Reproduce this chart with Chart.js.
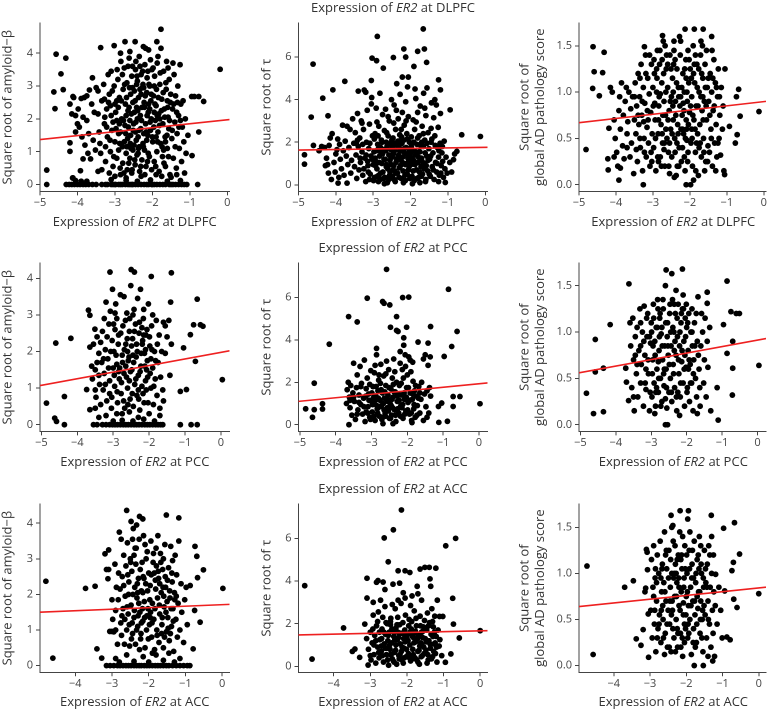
<!DOCTYPE html>
<html>
<head>
<meta charset="utf-8">
<script src="https://cdn.jsdelivr.net/npm/chart.js@4"></script>
<style>
  html, body { margin: 0; padding: 0; background: #fff; }
  #wrap { position: relative; width: 770px; height: 712px; overflow: hidden; font-family: "Open Sans", sans-serif; color: #333; }
  #wrap canvas { position: absolute; }
  .lbl { position: absolute; font-size: 13px; line-height: 16px; white-space: nowrap; transform: translateX(-50%); color: #333; }
</style>
</head>
<body>
<div id="wrap"></div>
<script>
// tick labels
const xTicksWide = [-5, -4, -3, -2, -1, 0];
const xTicksAcc = [-4, -3, -2, -1, 0];
const amyloidTicks = [0, 1, 2, 3, 4];
const tauTicks = [0, 2, 4, 6];
const globalTicks = [0, 0.5, 1, 1.5];

const regions = ['DLPFC', 'PCC', 'ACC'];

// fitted lines [x, y] at both ends
const fitDlpfcAmyloid = [[-5, 1.37], [0.06, 1.98]];
const fitDlpfcTau = [[-5, 1.63], [0.06, 1.76]];
const fitDlpfcGlobal = [[-5, 0.67], [0.06, 0.90]];
const fitPccAmyloid = [[-5.04, 1.07], [0.24, 2.02]];
const fitPccTau = [[-5.04, 1.1], [0.24, 1.97]];
const fitPccGlobal = [[-5.04, 0.56], [0.24, 0.93]];
const fitAccAmyloid = [[-4.96, 1.5], [0.2, 1.72]];
const fitAccTau = [[-4.96, 1.47], [0.2, 1.67]];
const fitAccGlobal = [[-4.96, 0.64], [0.2, 0.85]];

// points [x, y]
const dlpfcAmyloid = [
  [-4.82,0.44],[-4.82,0],[-4.57,3.97],[-4.31,3.85],[-4.44,3.37],[-4.63,2.82],[-4.6,2.31],[-4.38,2.89],[-0.19,3.51],[-0.63,2.53],
  [-0.95,2.68],[-0.88,2.68],[-0.76,2.68],[-0.76,1.6],[-0.94,0.88],[-0.79,0],[-1.77,4.73],[-1.88,4.35],[-2.46,4.35],[-2.73,4.35],
  [-3.02,4.23],[-3.38,4.17],[-4.2,2.45],[-4.12,2.68],[-4.2,1.27],[-4.2,1.01],[-4.13,0.2],
  [-4.3,0],[-4.22,0],[-4.15,0],[-4.08,0],[-4.0,0],[-3.93,0],[-3.85,0],[-3.78,0],[-3.7,0],[-3.6,0],[-3.5,0],[-3.35,0],[-3.25,0],
  [-3.1,0],[-3.05,0],[-2.98,0],[-2.9,0],[-2.85,0],[-2.8,0],[-2.72,0],[-2.65,0],[-2.6,0],[-2.52,0],[-2.45,0],[-2.38,0],[-2.3,0],
  [-2.22,0],[-2.15,0],[-2.1,0],[-2.02,0],[-1.95,0],[-1.88,0],[-1.8,0],[-1.72,0],[-1.65,0],[-1.55,0],[-1.45,0],[-1.38,0],[-1.3,0],
  [-1.22,0],[-1.15,0],[-1.08,0],[-3.2,0],[-3.0,0],[-2.55,0],[-2.0,0],[-1.5,0],
  [-4.05,0.12],[-3.9,0.1],[-3.1,0.15],[-2.7,0.12],[-2.4,0.1],[-2.05,0.14],[-1.6,0.1],[-1.25,0.12],[-4.12,0.2],[-3.75,0.1],
  [-3.0,0.25],[-2.85,0.3],[-2.55,0.35],[-2.3,0.25],[-1.9,0.3],[-1.5,0.22],[-1.35,0.3],[-3.45,0.4],
  [-4.15,2.15],[-4.05,2.1],[-4.0,1.85],[-3.95,1.75],[-4.1,2.65],[-3.9,2.62],[-3.82,2.65],[-3.75,2.7],[-3.85,2.05],[-3.75,1.95],
  [-3.88,1.45],[-3.8,1.2],[-3.72,0.95],[-3.65,0.78],[-3.92,0.42],[-4.05,1.6],[-3.98,2.3],[-3.6,3.25],[-3.55,2.2],[-3.62,2.45],
  [-3.7,1.55],[-3.58,1.35],[-3.52,1.05],[-3.68,2.88],[-3.5,2.95],[-3.85,0.78],
  [-3.45,2.15],[-3.42,1.6],[-3.4,1.25],[-3.38,0.95],[-3.35,2.55],[-3.3,3.05],[-3.28,1.85],[-3.25,0.7],[-3.22,2.3],[-3.2,1.45],
  [-3.18,3.35],[-3.15,2.75],[-3.12,1.0],[-3.1,2.1],[-3.08,1.65],[-3.05,0.55],[-3.02,3.0],[-3.0,2.45],[-3.0,1.3],[-3.35,0.45],
  [-3.25,1.15],[-3.15,0.35],[-3.45,2.85],[-3.28,2.6],[-3.1,3.45],[-3.05,1.9],
  [-2.98,2.2],[-2.95,0.8],[-2.92,3.2],[-2.9,1.55],[-2.88,2.65],[-2.86,0.5],[-2.84,3.75],[-2.82,2.0],[-2.8,1.15],[-2.78,2.9],
  [-2.76,0.35],[-2.75,3.55],[-2.73,1.8],[-2.72,2.45],[-2.7,0.95],[-2.68,3.1],[-2.66,1.4],[-2.65,2.25],[-2.63,0.65],[-2.62,3.85],
  [-2.6,1.95],[-2.58,2.75],[-2.57,1.1],[-2.55,3.3],[-2.54,0.45],[-2.52,2.5],[-2.51,1.65],[-2.85,4.0],[-2.8,3.35],[-2.7,2.1],
  [-2.6,0.8],[-2.58,1.5],[-2.95,2.55],[-2.9,1.05],[-2.75,1.3],[-2.65,3.6],[-2.53,2.95],[-2.88,1.85],[-2.7,0.2],[-2.6,4.05],
  [-2.49,1.2],[-2.48,2.85],[-2.46,0.6],[-2.45,3.5],[-2.44,1.9],[-2.42,2.35],[-2.41,0.9],[-2.4,3.15],[-2.38,1.45],[-2.37,2.65],
  [-2.35,3.9],[-2.34,0.4],[-2.32,2.1],[-2.31,1.7],[-2.3,3.35],[-2.28,0.75],[-2.27,2.95],[-2.25,1.25],[-2.24,4.2],[-2.22,2.5],
  [-2.21,1.05],[-2.2,3.65],[-2.18,1.85],[-2.17,0.55],[-2.15,2.8],[-2.14,3.25],[-2.12,1.5],[-2.11,2.2],[-2.1,4.1],[-2.08,0.85],
  [-2.07,3.0],[-2.05,1.65],[-2.04,2.55],[-2.02,0.45],[-2.01,3.5],[-2.45,1.6],[-2.4,2.0],[-2.35,1.15],[-2.3,2.75],[-2.25,3.05],
  [-2.2,0.3],[-2.15,1.35],[-2.1,2.45],[-2.05,3.8],[-2.38,0.95],[-2.28,2.35],[-2.18,4.15],[-2.48,2.2],[-2.33,3.6],[-2.23,1.55],
  [-2.13,0.7],[-2.03,2.0],[-2.42,3.05],[-2.12,3.45],
  [-1.99,1.3],[-1.97,2.7],[-1.95,0.7],[-1.94,3.3],[-1.92,1.95],[-1.9,2.4],[-1.88,1.0],[-1.87,3.7],[-1.85,1.6],[-1.83,2.15],
  [-1.82,0.4],[-1.8,3.05],[-1.78,1.25],[-1.77,4.15],[-1.75,2.6],[-1.73,0.85],[-1.72,1.85],[-1.7,3.45],[-1.68,2.3],[-1.66,1.45],
  [-1.65,0.55],[-1.63,2.9],[-1.62,3.75],[-1.6,1.1],[-1.58,2.05],[-1.56,1.7],[-1.55,3.2],[-1.53,0.3],[-1.52,2.5],[-1.9,1.45],
  [-1.8,2.0],[-1.7,1.05],[-1.6,2.55],[-1.85,3.9],[-1.75,0.25],[-1.95,2.2],[-1.65,1.3],[-1.58,3.55],
  [-1.48,1.4],[-1.46,2.3],[-1.44,0.8],[-1.42,3.35],[-1.4,1.9],[-1.38,2.7],[-1.36,0.5],[-1.34,1.55],[-1.32,3.0],[-1.3,2.1],
  [-1.28,1.1],[-1.26,3.65],[-1.24,2.45],[-1.22,0.7],[-1.2,1.75],[-1.18,2.55],[-1.16,1.3],[-1.14,0.35],[-1.12,2.0],[-1.1,0.95],
  [-1.05,1.5],[-1.35,2.2],[-1.45,3.7],[-1.25,1.95],
  [-3.27,2.05],[-3.22,1.75],[-3.17,2.5],[-3.13,1.35],[-3.07,2.85],[-3.03,0.85],[-2.97,1.7],[-2.94,3.5],[-2.91,2.35],[-2.87,1.25],
  [-2.83,2.55],[-2.79,0.65],[-2.77,1.95],[-2.74,3.05],[-2.71,1.55],[-2.69,2.65],[-2.67,0.45],[-2.64,1.75],[-2.61,2.95],[-2.59,1.25],
  [-2.56,2.15],[-2.53,3.6],[-2.5,1.85],[-2.47,0.75],[-2.46,2.55],[-2.43,1.35],[-2.41,3.3],[-2.39,2.25],[-2.36,1.65],[-2.33,2.9],
  [-2.31,0.55],[-2.29,1.95],[-2.26,3.45],[-2.24,1.15],[-2.21,2.35],[-2.19,2.7],[-2.16,1.6],[-2.14,2.1],[-2.11,0.95],[-2.09,3.05],
  [-2.06,1.9],[-2.03,2.75],[-2.0,1.45],[-1.98,3.55],[-1.96,1.75],[-1.93,2.45],[-1.91,0.55],[-1.89,2.9],[-1.86,1.3],[-1.84,2.65],
  [-1.81,1.8],[-1.79,3.4],[-1.76,2.25],[-1.74,1.15],[-1.71,2.8],[-1.69,0.65],[-1.67,2.05],[-1.64,3.1],[-1.61,1.5],[-1.59,2.35],
  [-1.57,0.85],[-1.54,1.95],[-1.51,2.75],[-1.47,1.65],[-1.43,2.45],[-1.39,1.15],[-1.33,2.5],[-1.29,1.75],[-2.85,1.6],[-2.62,2.35],
  [-2.37,1.1],[-2.23,2.95],[-2.07,2.3],[-1.87,2.1],[-2.52,1.05],[-2.95,1.95],[-3.12,2.4],[-2.44,3.75],[-1.95,3.0],[-2.68,1.15]
];

const dlpfcTau = [
  [-4.84,1.41],[-4.84,0.97],[-4.61,5.67],[-4.66,3.18],[-4.6,1.85],[-4.35,4.07],[-4.21,3.24],[-4.08,4.46],[-3.76,4.86],[-2.89,6.97],
  [-3.03,5.95],[-2.91,5.83],[-2.73,5.48],[-2.46,5.98],[-2.18,6.38],[-2.13,6.0],[-1.81,6.27],[-1.66,7.32],[-1.63,6.38],[-1.57,5.75],
  [-1.91,5.56],[-2.22,5.06],[-2.06,5.06],[-3.05,4.9],[-1.25,4.93],[-1.2,4.46],[-0.94,3.52],[-0.63,2.35],[-0.13,2.27],[-0.76,1.57],
  [-0.85,1.18],[-1.07,0.11],[-3.94,0.08],[-3.7,0.08],
  [-4.45,1.6],[-4.38,1.8],[-4.3,1.75],[-4.25,1.25],[-4.22,0.95],[-4.2,0.55],[-4.18,1.85],[-4.15,2.2],[-4.1,2.4],[-4.05,1.05],
  [-4.02,0.6],[-4.0,1.45],[-3.95,2.15],[-3.92,0.35],[-3.9,1.9],[-3.88,1.2],[-3.85,0.75],[-3.82,2.8],[-3.8,1.6],[-3.78,0.45],
  [-3.75,2.05],[-3.72,1.35],[-3.7,2.75],[-3.68,0.95],[-3.65,1.75],[-3.62,2.6],[-3.6,0.55],[-3.58,1.15],[-3.55,3.1],[-3.52,1.95],
  [-3.5,0.85],[-4.12,0.25],[-3.97,1.65],[-4.28,0.9],
  [-3.48,2.45],[-3.46,1.4],[-3.44,0.3],[-3.42,3.35],[-3.4,1.8],[-3.38,0.7],[-3.36,2.2],[-3.34,1.05],[-3.32,3.0],[-3.3,1.55],
  [-3.28,0.45],[-3.26,2.6],[-3.24,4.45],[-3.22,1.25],[-3.2,0.15],[-3.18,2.0],[-3.16,3.5],[-3.14,0.9],[-3.12,1.7],[-3.1,2.85],
  [-3.08,0.5],[-3.06,1.35],[-3.04,4.1],[-3.02,2.3],[-3.0,0.95],[-3.4,4.4],[-3.3,2.9],[-3.15,1.1],[-3.05,3.8],[-3.25,0.75],
  [-3.45,1.95],[-3.2,4.35],[-3.1,0.25],
  [-2.98,1.55],[-2.96,0.35],[-2.95,2.4],[-2.93,1.1],[-2.92,3.6],[-2.9,0.75],[-2.88,1.9],[-2.86,0.15],[-2.85,2.75],[-2.83,1.35],
  [-2.82,4.3],[-2.8,0.55],[-2.78,2.1],[-2.77,1.0],[-2.75,3.3],[-2.73,1.65],[-2.72,0.3],[-2.7,2.55],[-2.68,1.2],[-2.67,3.55],
  [-2.65,0.85],[-2.63,1.8],[-2.62,0.1],[-2.6,2.3],[-2.58,1.4],[-2.57,3.0],[-2.55,0.6],[-2.53,1.95],[-2.52,0.95],[-2.51,4.0],
  [-2.95,1.25],[-2.85,0.45],[-2.75,1.45],[-2.65,2.0],[-2.55,1.15],[-2.9,2.95],[-2.7,0.05],[-2.6,3.2],[-2.8,1.75],[-2.58,0.25],
  [-2.49,1.3],[-2.48,0.4],[-2.47,2.2],[-2.45,0.9],[-2.44,3.75],[-2.43,1.6],[-2.41,0.15],[-2.4,2.6],[-2.39,1.05],[-2.37,4.75],
  [-2.36,1.85],[-2.35,0.55],[-2.33,3.1],[-2.32,1.4],[-2.3,0.8],[-2.29,2.35],[-2.28,4.25],[-2.26,1.15],[-2.25,0.3],[-2.23,1.95],
  [-2.22,3.4],[-2.2,0.65],[-2.19,1.55],[-2.17,2.8],[-2.16,1.0],[-2.14,0.2],[-2.13,3.9],[-2.12,1.75],[-2.1,2.4],[-2.09,0.5],
  [-2.07,1.25],[-2.06,3.2],[-2.04,0.85],[-2.03,2.0],[-2.01,1.45],[-2.45,2.9],[-2.35,1.25],[-2.25,2.6],[-2.15,0.45],[-2.05,1.1],
  [-2.42,0.65],[-2.32,2.05],[-2.22,1.05],[-2.12,3.0],[-2.02,0.3],[-2.38,3.5],[-2.18,2.1],[-2.08,4.6],[-2.28,1.7],[-2.48,1.75],
  [-1.99,0.95],[-1.98,2.25],[-1.96,0.4],[-1.95,1.6],[-1.93,3.05],[-1.92,1.15],[-1.9,0.2],[-1.89,2.6],[-1.87,1.4],[-1.86,4.05],
  [-1.84,0.7],[-1.83,1.9],[-1.81,3.4],[-1.8,1.05],[-1.78,0.35],[-1.77,2.3],[-1.75,1.55],[-1.74,3.7],[-1.72,0.85],[-1.71,1.25],
  [-1.69,2.75],[-1.68,0.5],[-1.66,1.8],[-1.65,4.3],[-1.63,1.0],[-1.62,2.1],[-1.6,0.15],[-1.59,3.25],[-1.57,1.35],[-1.56,4.55],
  [-1.54,0.65],[-1.53,2.45],[-1.51,1.7],[-1.95,0.05],[-1.85,2.95],[-1.7,2.0],[-1.58,0.9],[-1.88,4.5],[-1.75,0.1],[-1.62,3.6],
  [-1.49,1.2],[-1.47,0.4],[-1.45,2.0],[-1.44,3.85],[-1.42,0.85],[-1.4,1.5],[-1.38,3.15],[-1.37,0.25],[-1.35,2.3],[-1.33,1.05],
  [-1.31,3.75],[-1.3,0.6],[-1.28,1.75],[-1.26,2.7],[-1.25,1.3],[-1.23,0.45],[-1.21,1.95],[-1.2,3.35],[-1.18,0.9],[-1.16,1.5],
  [-1.14,1.1],[-1.12,0.35],[-1.1,2.05],[-1.08,0.75],[-1.05,1.3],[-1.02,0.55],[-1.35,4.0],[-1.45,2.65],[-1.25,0.15],[-1.15,1.8],
  [-0.95,1.05],[-0.9,0.6],[-0.82,1.45],
  [-3.19,1.4],[-3.13,0.6],[-3.09,1.95],[-3.03,1.2],[-2.99,0.2],[-2.97,2.15],[-2.94,0.9],[-2.91,1.6],[-2.89,0.4],[-2.87,2.3],
  [-2.84,1.05],[-2.81,0.25],[-2.79,1.5],[-2.76,2.0],[-2.74,0.6],[-2.71,1.2],[-2.69,0.35],[-2.66,1.6],[-2.64,2.45],[-2.61,0.75],
  [-2.59,1.9],[-2.56,0.45],[-2.54,1.35],[-2.5,2.1],[-2.47,0.7],[-2.46,1.45],[-2.44,0.25],[-2.42,1.95],[-2.39,0.55],[-2.37,1.15],
  [-2.34,2.05],[-2.31,0.35],[-2.29,1.6],[-2.27,0.9],[-2.24,2.25],[-2.21,1.3],[-2.19,0.1],[-2.17,1.7],[-2.14,0.95],[-2.11,1.45],
  [-2.09,2.15],[-2.06,0.7],[-2.03,1.6],[-2.01,0.35],[-1.98,1.8],[-1.96,1.25],[-1.93,0.65],[-1.91,2.0],[-1.88,0.95],[-1.86,1.55],
  [-1.83,0.3],[-1.81,2.2],[-1.79,1.3],[-1.76,0.6],[-1.73,1.85],[-1.71,0.4],[-1.69,1.1],[-1.66,2.4],[-1.64,0.75],[-1.61,1.5],
  [-1.59,0.25],[-1.56,1.95],[-1.53,1.15],[-1.5,0.5],[-1.46,1.35],[-1.43,2.15],[-1.39,0.7],[-1.34,1.85],[-1.29,1.0],[-1.24,1.6],
  [-1.19,0.55],[-3.35,1.25],[-3.42,2.1],[-3.28,1.9],[-2.86,1.7],[-2.52,1.65],[-2.26,1.95],[-2.0,0.95],[-1.77,1.55],[-2.65,0.95]
];

const dlpfcGlobal = [
  [-4.81,0.38],[-4.62,1.49],[-4.59,1.22],[-4.32,1.43],[-4.36,1.21],[-4.63,1.04],[-4.45,0.96],[-4.19,0.61],[-4.22,0.28],[-4.21,0.16],
  [-3.92,0.05],[-3.26,0.0],[-2.1,0.0],[-1.98,0.0],[-0.13,0.79],[-0.64,0.74],[-0.68,1.03],[-0.74,0.95],[-0.77,0.45],[-0.72,0.54],
  [-0.93,0.63],[-1.06,0.11],[-1.88,1.68],[-2.13,1.68],[-1.64,1.68],[-2.74,1.61],[-1.41,1.6],[-3.23,1.49],
  [-4.15,1.05],[-4.1,1.0],[-4.05,0.7],[-4.02,0.5],[-3.98,0.35],[-3.95,0.2],[-3.92,0.8],[-3.9,0.95],[-3.88,0.6],[-3.85,1.1],
  [-3.82,0.42],[-3.8,0.75],[-3.78,0.28],[-3.75,0.9],[-3.72,1.05],[-3.7,0.55],[-3.68,0.68],[-3.65,1.0],[-3.62,0.3],[-3.6,0.82],
  [-3.58,0.45],[-3.55,0.95],[-3.52,0.12],[-3.5,0.7],[-4.05,0.3],[-3.88,0.18],[-3.7,0.4],
  [-3.48,1.1],[-3.46,0.55],[-3.44,0.85],[-3.42,0.25],[-3.4,1.2],[-3.38,0.65],[-3.36,0.95],[-3.34,0.4],[-3.32,1.3],[-3.3,0.75],
  [-3.28,0.15],[-3.26,1.05],[-3.24,0.5],[-3.22,0.88],[-3.2,1.4],[-3.18,0.3],[-3.16,0.62],[-3.14,1.15],[-3.12,0.45],[-3.1,0.98],
  [-3.08,0.2],[-3.06,0.78],[-3.04,1.3],[-3.02,0.55],[-3.0,1.05],[-3.35,1.15],[-3.15,0.8],[-3.05,0.35],[-3.45,0.38],[-3.25,0.68],
  [-2.98,0.4],[-2.96,1.2],[-2.94,0.7],[-2.92,0.15],[-2.9,1.0],[-2.88,1.45],[-2.86,0.55],[-2.84,0.85],[-2.82,1.3],[-2.8,0.3],
  [-2.78,0.65],[-2.76,1.1],[-2.74,0.45],[-2.72,1.55],[-2.7,0.9],[-2.68,0.2],[-2.66,0.75],[-2.64,1.25],[-2.62,0.5],[-2.6,1.05],
  [-2.58,0.35],[-2.56,0.8],[-2.54,1.4],[-2.52,0.6],[-2.5,0.95],[-2.95,0.88],[-2.85,0.25],[-2.75,1.35],[-2.65,0.6],[-2.55,0.12],
  [-2.9,1.25],[-2.7,0.38],[-2.6,1.3],[-2.8,0.98],[-2.67,1.5],
  [-2.49,0.3],[-2.47,1.15],[-2.45,0.7],[-2.43,1.45],[-2.41,0.5],[-2.39,0.9],[-2.37,0.1],[-2.35,1.25],[-2.33,0.65],[-2.31,1.05],
  [-2.29,0.4],[-2.27,0.85],[-2.25,1.55],[-2.23,0.25],[-2.21,0.75],[-2.19,1.2],[-2.17,0.55],[-2.15,1.0],[-2.13,0.15],[-2.11,1.35],
  [-2.09,0.6],[-2.07,0.9],[-2.05,0.35],[-2.03,1.1],[-2.01,0.78],[-2.45,1.0],[-2.35,0.45],[-2.25,0.95],[-2.15,0.3],[-2.05,1.45],
  [-2.4,1.35],[-2.3,0.2],[-2.2,0.6],[-2.1,1.15],[-2.42,0.08],[-2.28,1.6],[-2.18,0.88],[-2.08,0.48],
  [-1.99,1.25],[-1.97,0.45],[-1.95,0.95],[-1.93,0.2],[-1.91,1.5],[-1.89,0.7],[-1.87,1.1],[-1.85,0.35],[-1.83,0.85],[-1.81,1.3],
  [-1.79,0.55],[-1.77,0.1],[-1.75,1.0],[-1.73,0.65],[-1.71,1.4],[-1.69,0.3],[-1.67,0.8],[-1.65,1.15],[-1.63,0.5],[-1.61,0.9],
  [-1.59,1.3],[-1.57,0.25],[-1.55,0.7],[-1.53,1.05],[-1.51,0.42],[-1.95,0.6],[-1.85,1.4],[-1.75,0.4],[-1.65,0.95],[-1.55,1.45],
  [-1.9,0.05],[-1.7,1.55],[-1.6,0.15],
  [-1.49,0.9],[-1.47,0.35],[-1.45,1.2],[-1.43,0.6],[-1.41,1.0],[-1.39,0.2],[-1.37,0.8],[-1.35,1.35],[-1.33,0.45],[-1.31,1.1],
  [-1.29,0.65],[-1.27,0.3],[-1.25,0.95],[-1.23,1.25],[-1.21,0.5],[-1.19,0.75],[-1.17,0.32],[-1.15,1.05],[-1.12,0.6],[-1.1,0.85],
  [-1.08,0.15],[-1.05,1.25],[-1.4,1.45],[-1.3,0.15],
  [-3.29,0.9],[-3.23,0.35],[-3.19,1.2],[-3.13,0.7],[-3.09,1.4],[-3.03,0.25],[-2.99,0.85],[-2.97,1.35],[-2.93,0.5],[-2.89,1.15],
  [-2.87,0.3],[-2.83,0.95],[-2.81,1.45],[-2.77,0.2],[-2.73,0.75],[-2.71,1.2],[-2.69,0.45],[-2.65,1.0],[-2.63,1.4],[-2.59,0.7],
  [-2.57,0.2],[-2.53,0.9],[-2.51,1.25],[-2.48,0.55],[-2.46,0.85],[-2.44,1.3],[-2.4,0.35],[-2.38,0.75],[-2.36,1.1],[-2.32,0.55],
  [-2.3,0.95],[-2.26,1.4],[-2.24,0.6],[-2.22,1.05],[-2.2,0.4],[-2.16,0.8],[-2.14,1.25],[-2.12,0.5],[-2.08,1.0],[-2.06,0.25],
  [-2.04,0.65],[-2.02,1.35],[-1.98,0.85],[-1.96,1.15],[-1.94,0.5],[-1.92,0.75],[-1.88,1.3],[-1.86,0.6],[-1.84,0.15],[-1.8,1.05],
  [-1.78,0.85],[-1.76,1.25],[-1.72,0.45],[-1.7,0.95],[-1.68,1.2],[-1.64,0.7],[-1.62,0.35],[-1.58,1.05],[-1.56,0.85],[-1.52,0.25],
  [-1.5,1.15],[-1.46,0.75],[-1.42,0.5],[-1.38,1.15],[-1.34,0.85],[-1.28,1.05],[-1.24,0.45],[-1.2,0.95],[-3.4,0.75],[-3.5,0.95],
  [-3.35,0.5],[-2.75,0.55],[-2.55,0.45],[-2.34,0.2],[-2.1,0.7],[-1.82,0.45],[-1.66,1.5],[-2.85,0.7],[-2.43,1.55],[-1.9,1.2]
];

const pccAmyloid = [
  [-4.86,0.59],[-4.6,2.23],[-4.63,0.18],[-4.58,0.09],[-4.36,0],[-4.36,0.77],[-4.18,2.36],[-3.69,3.13],[-3.65,2.99],[-3.65,2.12],
  [-3.74,0.96],[-3.65,0.41],[-3.51,2.61],[-3.09,4.17],[-2.5,4.24],[-2.41,4.17],[-1.94,4.05],[-1.38,4.15],[-0.66,3.43],[-0.76,2.73],
  [-0.57,2.73],[-0.5,2.69],[-0.71,1.73],[-0.96,0.96],[-1.13,0.91],[-1.04,2.1],[-1.13,0],[-0.83,0],[-0.66,0],[0.04,1.23],[-0.85,2.46],
  [-3.55,0],[-3.45,0],[-3.3,0],[-3.2,0],[-3.1,0],[-3.02,0],[-2.95,0],[-2.88,0],[-2.8,0],[-2.72,0],[-2.65,0],[-2.58,0],[-2.5,0],
  [-2.42,0],[-2.35,0],[-2.28,0],[-2.2,0],[-2.12,0],[-2.05,0],[-1.98,0],[-1.9,0],[-1.82,0],[-1.75,0],[-1.68,0],[-1.62,0],
  [-3.0,0.1],[-2.75,0.12],[-2.45,0.1],[-2.15,0.15],[-1.85,0.1],[-3.2,0.25],[-2.9,0.3],[-2.55,0.35],[-2.3,0.2],[-2.0,0.3],
  [-1.7,0.25],[-3.4,0.2],[-3.5,0.45],
  [-3.6,1.6],[-3.58,1.25],[-3.55,2.2],[-3.5,1.5],[-3.48,0.75],[-3.45,2.4],[-3.4,1.95],[-3.38,1.1],[-3.35,0.55],[-3.32,1.7],
  [-3.3,2.55],[-3.28,0.95],[-3.25,1.4],[-3.22,2.05],[-3.2,3.35],[-3.18,0.65],[-3.15,1.8],[-3.12,2.75],[-3.1,1.2],[-3.08,3.1],
  [-3.05,0.45],[-3.03,2.3],[-3.0,1.55],[-3.4,1.35],[-3.25,2.9],[-3.1,0.85],[-3.02,3.7],[-3.5,0.95],
  [-2.98,2.0],[-2.96,1.05],[-2.93,3.3],[-2.9,1.65],[-2.88,0.6],[-2.85,2.45],[-2.83,1.25],[-2.8,3.55],[-2.78,0.85],[-2.75,1.9],
  [-2.73,2.7],[-2.7,1.4],[-2.68,0.45],[-2.65,2.2],[-2.62,3.05],[-2.6,1.0],[-2.58,1.75],[-2.55,2.55],[-2.53,0.7],[-2.51,3.8],
  [-2.95,2.6],[-2.85,1.45],[-2.75,0.3],[-2.65,1.6],[-2.55,1.2],[-2.9,2.9],[-2.7,3.5],[-2.6,2.0],
  [-2.48,1.5],[-2.46,2.35],[-2.44,0.5],[-2.42,3.15],[-2.4,1.1],[-2.38,2.75],[-2.36,1.85],[-2.34,0.8],[-2.32,3.45],[-2.3,1.35],
  [-2.28,2.5],[-2.26,0.4],[-2.24,3.7],[-2.22,1.95],[-2.2,1.05],[-2.18,2.3],[-2.16,2.9],[-2.14,0.6],[-2.12,1.6],[-2.1,2.05],
  [-2.08,0.95],[-2.06,2.6],[-2.04,1.3],[-2.02,3.3],[-2.45,1.9],[-2.35,2.2],[-2.25,1.45],[-2.15,2.45],[-2.05,1.75],[-2.3,0.95],
  [-2.2,2.65],[-2.1,1.2],
  [-1.98,2.15],[-1.95,1.0],[-1.93,2.7],[-1.9,1.55],[-1.88,0.55],[-1.85,2.0],[-1.83,1.25],[-1.8,2.85],[-1.78,0.8],[-1.75,1.7],
  [-1.72,2.45],[-1.7,0.45],[-1.68,1.3],[-1.65,2.0],[-1.62,0.95],[-1.6,2.8],[-1.55,1.95],[-1.5,2.4],[-1.45,2.85],[-1.42,1.35],
  [-1.4,3.35],[-1.38,2.2],[-1.9,3.0],[-1.95,1.8],[-1.6,0.65],[-1.55,2.7],
  [-3.27,1.8],[-3.22,1.1],[-3.17,2.4],[-3.13,1.55],[-3.07,2.0],[-3.04,0.75],[-2.99,2.75],[-2.97,1.35],[-2.92,1.9],[-2.89,0.9],
  [-2.86,2.2],[-2.82,1.55],[-2.79,2.5],[-2.77,1.15],[-2.74,1.7],[-2.71,0.65],[-2.69,2.05],[-2.66,2.85],[-2.63,1.3],[-2.61,2.35],
  [-2.59,0.55],[-2.56,1.85],[-2.54,2.9],[-2.52,1.45],[-2.49,2.15],[-2.47,0.85],[-2.43,1.7],[-2.41,2.55],[-2.37,1.25],[-2.33,2.0],
  [-2.29,0.7],[-2.27,2.8],[-2.23,1.6],[-2.19,2.2],[-2.17,0.85],[-2.13,1.95],[-2.09,2.45],[-2.07,1.5],[-2.03,0.6],[-1.99,2.4],
  [-1.97,1.4],[-1.92,2.05],[-1.87,1.05],[-1.82,1.75],[-1.77,2.2],[-3.35,2.25],[-3.45,1.7],[-2.95,3.05],[-2.45,3.0],[-2.15,3.15]
];

const pccTau = [
  [-4.84,0.75],[-4.65,0.35],[-4.6,0.71],[-4.6,1.96],[-4.37,0.99],[-4.37,0.74],[-4.18,3.8],[-3.64,5.1],[-3.4,4.85],[-3.63,0],
  [-3.12,5.97],[-2.58,7.33],[-2.69,5.81],[-2.65,5.73],[-2.49,5.65],[-2.3,5.1],[-2.13,6.0],[-1.96,6.02],[-2.02,4.6],[-2.47,4.6],
  [-1.35,4.63],[-0.85,6.39],[-0.61,4.4],[-0.76,3.69],[-0.97,3.22],[-0.72,1.33],[-0.53,1.33],[-0.72,0.86],[-1.04,1.02],[-1.13,0.86],
  [-1.12,0.11],[-0.88,0.16],[0.03,0.99],[-1.42,3.85],[-2.86,3.6],
  [-3.7,1.0],[-3.68,1.65],[-3.65,2.0],[-3.62,1.3],[-3.6,0.8],[-3.58,1.85],[-3.55,0.45],[-3.52,1.5],[-3.5,2.9],[-3.48,1.1],
  [-3.45,0.25],[-3.42,1.75],[-3.4,2.35],[-3.38,0.7],[-3.35,1.4],[-3.32,2.75],[-3.3,0.95],[-3.28,1.95],[-3.25,0.5],[-3.22,1.25],
  [-3.2,3.05],[-3.18,0.15],[-3.15,1.7],[-3.12,2.2],[-3.1,0.85],[-3.08,1.45],[-3.05,0.35],[-3.02,2.55],[-3.0,1.1],[-3.6,1.15],
  [-3.4,0.5],[-3.3,1.8],[-3.15,0.6],[-3.05,1.9],
  [-2.98,0.6],[-2.96,1.8],[-2.94,1.05],[-2.92,2.45],[-2.9,0.2],[-2.88,1.35],[-2.86,3.3],[-2.84,0.75],[-2.82,1.6],[-2.8,2.1],
  [-2.78,0.4],[-2.76,1.15],[-2.74,2.85],[-2.72,0.9],[-2.7,1.5],[-2.68,0.05],[-2.66,2.3],[-2.64,1.25],[-2.62,0.55],[-2.6,1.85],
  [-2.58,3.0],[-2.56,0.8],[-2.54,1.4],[-2.52,2.6],[-2.5,0.3],[-2.95,1.25],[-2.85,0.9],[-2.75,1.95],[-2.65,0.7],[-2.55,1.1],
  [-2.9,2.8],[-2.7,0.35],[-2.6,2.4],
  [-2.48,1.0],[-2.46,1.7],[-2.44,0.45],[-2.42,2.2],[-2.4,1.3],[-2.38,3.1],[-2.36,0.7],[-2.34,1.55],[-2.32,0.15],[-2.3,2.0],
  [-2.28,1.1],[-2.26,4.4],[-2.24,0.55],[-2.22,1.85],[-2.2,3.45],[-2.18,0.9],[-2.16,1.4],[-2.14,2.6],[-2.12,0.3],[-2.1,4.1],
  [-2.08,1.2],[-2.06,3.3],[-2.04,0.65],[-2.02,1.75],[-2.0,2.35],[-2.45,0.9],[-2.35,2.5],[-2.25,1.45],[-2.15,0.8],[-2.05,2.75],
  [-2.3,4.45],[-2.2,2.9],[-2.1,3.75],[-2.4,0.05],
  [-1.98,1.05],[-1.96,3.2],[-1.94,0.5],[-1.92,1.5],[-1.9,2.5],[-1.88,0.2],[-1.86,1.2],[-1.84,2.05],[-1.82,0.75],[-1.8,1.6],
  [-1.78,0.35],[-1.75,1.35],[-1.72,0.9],[-1.7,3.9],[-1.68,1.8],[-1.65,0.55],[-1.62,1.2],[-1.6,2.0],[-1.55,0.2],[-1.52,1.45],
  [-1.5,3.3],[-1.48,0.85],[-1.45,1.6],[-1.42,2.8],[-1.4,0.55],[-1.38,1.75],[-1.36,3.2],[-1.92,3.05],[-1.85,2.95],[-1.55,3.1],
  [-1.65,1.5],[-1.45,0.35],[-1.35,1.35],
  [-3.21,0.85],[-3.16,1.35],[-3.11,0.55],[-3.07,1.15],[-3.03,0.25],[-2.99,1.5],[-2.97,0.95],[-2.93,0.4],[-2.89,1.15],[-2.87,1.8],
  [-2.83,0.55],[-2.81,1.25],[-2.77,0.85],[-2.73,1.65],[-2.71,0.25],[-2.67,1.0],[-2.63,1.55],[-2.61,0.4],[-2.57,1.25],[-2.53,0.65],
  [-2.51,1.75],[-2.47,0.3],[-2.43,1.2],[-2.41,0.8],[-2.37,1.55],[-2.33,0.45],[-2.29,1.35],[-2.27,0.75],[-2.23,1.15],[-2.19,0.4],
  [-2.17,1.95],[-2.13,0.95],[-2.09,1.5],[-2.07,0.5],[-2.03,1.3],[-1.99,0.7],[-1.97,1.75],[-1.93,1.15],[-1.89,0.55],[-1.85,1.45],
  [-1.81,0.95],[-1.77,1.85],[-1.73,0.45],[-1.69,1.25],[-3.35,1.05],[-3.5,1.3],[-2.79,2.35],[-2.39,1.9],[-2.11,2.2],[-1.87,0.1]
];

const pccGlobal = [
  [-4.83,0.34],[-4.63,0.12],[-4.58,0.92],[-4.58,0.57],[-4.35,0.61],[-4.35,0.14],[-4.16,1.08],[-3.63,1.52],[-3.72,0.61],[-3.64,0.26],
  [-3.7,0.46],[-2.58,1.67],[-2.42,1.63],[-2.12,1.68],[-1.42,1.43],[-0.86,1.55],[-0.75,1.22],[-0.6,1.2],[-0.51,1.2],[-0.96,1.08],
  [-0.86,0.77],[-0.7,0.61],[-0.7,0.9],[-0.71,0.32],[0.04,0.64],[-1.11,0.05],[-1.14,0.4],[-1.42,1.31],[-2.6,0],[-2.54,0],
  [-3.6,1.1],[-3.58,0.85],[-3.55,0.4],[-3.52,1.15],[-3.5,0.7],[-3.48,0.15],[-3.45,0.95],[-3.42,0.55],[-3.4,1.05],[-3.38,0.3],
  [-3.35,0.8],[-3.32,1.25],[-3.3,0.45],[-3.28,0.65],[-3.25,1.0],[-3.22,0.2],[-3.2,1.28],[-3.18,0.75],[-3.15,0.38],[-3.12,0.95],
  [-3.1,1.2],[-3.08,0.55],[-3.05,0.15],[-3.02,0.88],[-3.0,1.1],[-3.5,0.3],[-3.3,1.1],[-3.15,0.6],[-3.05,0.95],[-3.4,0.65],
  [-2.98,0.3],[-2.96,0.7],[-2.94,1.3],[-2.92,0.45],[-2.9,0.9],[-2.88,0.2],[-2.86,1.05],[-2.84,0.6],[-2.82,1.35],[-2.8,0.35],
  [-2.78,0.8],[-2.76,1.15],[-2.74,0.5],[-2.72,0.98],[-2.7,0.25],[-2.68,0.7],[-2.66,1.25],[-2.64,0.42],[-2.62,0.85],[-2.6,1.5],
  [-2.58,0.6],[-2.56,0.18],[-2.54,1.1],[-2.52,0.75],[-2.5,0.35],[-2.95,0.85],[-2.85,0.4],[-2.75,1.2],[-2.65,0.55],[-2.55,0.95],
  [-2.9,0.12],[-2.8,0.68],[-2.7,1.05],[-2.6,0.28],
  [-2.48,1.2],[-2.46,0.5],[-2.44,0.85],[-2.42,0.25],[-2.4,1.35],[-2.38,0.65],[-2.36,1.0],[-2.34,0.4],[-2.32,1.2],[-2.3,0.75],
  [-2.28,0.15],[-2.26,0.95],[-2.24,1.3],[-2.22,0.55],[-2.2,0.85],[-2.18,0.3],[-2.16,1.1],[-2.14,0.68],[-2.12,1.25],[-2.1,0.45],
  [-2.08,0.9],[-2.06,0.2],[-2.04,1.15],[-2.02,0.62],[-2.0,1.05],[-2.45,1.0],[-2.35,0.8],[-2.25,0.35],[-2.15,1.2],[-2.05,0.75],
  [-2.3,1.45],[-2.1,1.4],[-2.2,0.1],
  [-1.98,0.4],[-1.96,0.8],[-1.94,1.2],[-1.92,0.25],[-1.9,0.65],[-1.88,1.0],[-1.86,0.45],[-1.84,0.85],[-1.82,0.15],[-1.8,0.7],
  [-1.78,1.1],[-1.75,0.5],[-1.72,0.3],[-1.7,0.9],[-1.68,1.38],[-1.65,0.6],[-1.62,0.2],[-1.6,0.85],[-1.55,1.0],[-1.52,0.45],
  [-1.5,0.7],[-1.45,0.3],[-1.42,0.9],[-1.4,0.62],[-1.35,1.05],[-1.32,0.15],[-1.95,0.6],[-1.85,1.25],[-1.7,0.12],[-1.58,1.2],
  [-1.48,1.15],
  [-3.21,0.9],[-3.17,0.45],[-3.13,1.15],[-3.09,0.7],[-3.03,0.35],[-2.99,1.0],[-2.97,0.55],[-2.93,1.15],[-2.89,0.75],[-2.87,0.35],
  [-2.83,1.05],[-2.79,0.5],[-2.77,0.95],[-2.73,0.2],[-2.69,0.85],[-2.67,1.35],[-2.63,0.6],[-2.59,1.1],[-2.57,0.4],[-2.53,0.85],
  [-2.49,0.65],[-2.47,1.3],[-2.43,0.35],[-2.39,1.05],[-2.37,0.55],[-2.33,0.9],[-2.29,0.3],[-2.27,1.15],[-2.23,0.7],[-2.19,1.0],
  [-2.17,0.45],[-2.13,0.8],[-2.09,1.25],[-2.07,0.6],[-2.03,0.95],[-1.99,0.35],[-1.97,1.1],[-1.93,0.7],[-1.89,0.45],[-1.85,1.0],
  [-1.81,0.55],[-1.77,0.85],[-1.73,1.2],[-1.67,0.75],[-1.63,0.4],[-3.3,0.85],[-3.45,0.75],[-2.81,1.25],[-2.35,1.3],[-2.01,1.3]
];

const accAmyloid = [
  [-4.8,2.37],[-4.61,0.21],[-3.72,2.17],[-3.46,2.23],[-3.41,0.47],[-3.28,0.21],[-3.19,3.14],[-3.09,3.25],[-3.15,2.7],[-3.09,2.7],
  [-3.11,2.44],[-3.06,0.96],[-3.0,0.96],[-2.6,4.36],[-2.25,4.19],[-2.16,4.12],[-1.52,4.23],[-1.18,4.15],[-0.74,3.35],[-0.69,3.07],
  [-0.51,2.69],[-0.67,2.47],[-0.6,1.22],[-0.75,1.55],[-0.79,0.47],[0.02,2.17],[-0.87,2.25],
  [-3.15,0],[-3.05,0],[-2.95,0],[-2.85,0],[-2.78,0],[-2.7,0],[-2.62,0],[-2.55,0],[-2.48,0],[-2.4,0],[-2.33,0],[-2.26,0],
  [-2.2,0],[-2.12,0],[-2.05,0],[-1.98,0],[-1.9,0],[-1.82,0],[-1.75,0],[-1.68,0],[-1.6,0],[-1.52,0],[-1.45,0],[-1.35,0],
  [-1.25,0],[-1.15,0],[-1.05,0],[-0.95,0],[-0.88,0],[-2.8,0.1],[-2.4,0.12],[-2.0,0.1],[-1.6,0.15],[-1.3,0.1],[-2.6,0.3],
  [-2.15,0.25],[-1.8,0.3],[-1.45,0.35],[-1.15,0.2],[-2.9,0.2],
  [-3.0,1.85],[-2.98,1.3],[-2.95,0.95],[-2.92,2.85],[-2.9,1.55],[-2.88,2.2],[-2.85,0.6],[-2.83,1.85],[-2.8,3.75],[-2.78,2.15],
  [-2.76,1.2],[-2.74,0.85],[-2.72,2.5],[-2.7,1.6],[-2.68,3.1],[-2.66,0.6],[-2.64,1.95],[-2.62,2.8],[-2.6,1.0],[-2.58,3.45],
  [-2.56,1.45],[-2.54,2.35],[-2.52,0.55],[-2.5,3.0],[-2.9,1.0],[-2.75,3.55],[-2.65,1.3],[-2.55,2.0],
  [-2.48,1.7],[-2.46,2.65],[-2.44,0.9],[-2.42,3.85],[-2.4,1.35],[-2.38,2.2],[-2.36,0.6],[-2.34,3.3],[-2.32,1.9],[-2.3,1.1],
  [-2.28,2.45],[-2.26,3.55],[-2.24,1.5],[-2.22,0.75],[-2.2,2.1],[-2.18,2.9],[-2.16,1.25],[-2.14,3.65],[-2.12,1.8],[-2.1,0.5],
  [-2.08,2.3],[-2.06,1.0],[-2.04,3.2],[-2.02,1.6],[-2.0,2.6],[-2.45,1.2],[-2.35,2.85],[-2.25,0.45],[-2.15,2.5],[-2.05,1.4],
  [-2.4,3.1],[-2.3,2.05],[-2.2,1.2],[-2.1,3.4],[-2.48,4.05],[-2.33,3.95],
  [-1.98,1.15],[-1.96,2.25],[-1.94,3.5],[-1.92,0.8],[-1.9,1.75],[-1.88,2.9],[-1.86,1.3],[-1.84,0.45],[-1.82,2.4],[-1.8,3.3],
  [-1.78,1.0],[-1.76,1.9],[-1.74,2.65],[-1.72,0.65],[-1.7,1.45],[-1.68,3.15],[-1.66,2.05],[-1.64,1.15],[-1.62,2.7],[-1.6,0.5],
  [-1.58,1.65],[-1.56,3.4],[-1.54,2.2],[-1.52,0.95],[-1.5,1.8],[-1.95,1.5],[-1.85,2.6],[-1.75,3.65],[-1.65,0.9],[-1.55,2.5],
  [-1.9,0.35],[-1.7,2.3],[-1.6,3.0],
  [-1.48,1.35],[-1.46,2.75],[-1.44,0.7],[-1.42,1.9],[-1.4,3.35],[-1.38,1.1],[-1.36,2.35],[-1.34,1.6],[-1.32,0.4],[-1.3,2.05],
  [-1.28,3.1],[-1.26,1.3],[-1.24,2.55],[-1.22,0.8],[-1.2,1.75],[-1.18,3.5],[-1.15,1.0],[-1.12,2.3],[-1.1,1.5],[-1.05,0.65],
  [-1.02,1.85],[-0.98,2.2],[-0.95,1.15],[-1.35,2.95],[-1.25,1.95],
  [-2.59,1.65],[-2.57,2.55],[-2.53,1.15],[-2.49,2.9],[-2.47,0.75],[-2.43,2.0],[-2.39,1.55],[-2.37,3.3],[-2.33,1.0],[-2.31,2.3],
  [-2.27,1.75],[-2.23,2.7],[-2.21,0.9],[-2.17,1.6],[-2.13,2.45],[-2.11,1.35],[-2.07,3.0],[-2.03,2.1],[-2.01,0.75],[-1.97,1.85],
  [-1.93,2.55],[-1.91,1.2],[-1.87,3.15],[-1.83,1.6],[-1.81,2.15],[-1.77,0.85],[-1.73,2.45],[-1.71,1.7],[-1.67,2.9],[-1.63,1.35],
  [-1.61,2.2],[-1.57,0.8],[-1.53,1.5],[-1.49,2.4],[-1.47,1.05],[-1.43,2.1],[-1.39,1.6],[-1.37,2.6],[-1.33,1.25],[-1.29,1.85],
  [-2.68,2.25],[-2.73,1.4],[-2.82,2.6],[-2.44,3.55],[-2.29,1.4],[-1.79,2.8],[-1.96,1.35],[-2.16,2.05],[-1.59,1.95],[-1.41,0.9]
];

const accTau = [
  [-4.79,3.78],[-4.59,0.34],[-3.73,1.8],[-3.49,0.7],[-3.42,0.81],[-3.29,0.42],[-3.15,1.98],[-3.09,4.13],[-3.09,3.2],[-3.06,0.06],
  [-2.92,3.0],[-2.83,3.94],[-2.79,4.02],[-2.62,6.02],[-2.51,4.9],[-2.37,6.4],[-2.15,7.33],[-2.24,4.48],[-2.05,4.48],[-1.92,4.4],
  [-0.94,5.65],[-0.67,6.0],[-0.75,3.19],[-0.73,1.98],[-0.57,1.33],[-0.8,0.58],[-0.95,0.19],[0.0,1.67],[-1.11,2.34],[-1.02,2.34],
  [-1.51,4.64],[-1.39,4.64],[-1.21,4.6],[-1.17,3.1],[-1.37,4.1],[-1.64,4.56],
  [-3.1,1.3],[-3.05,0.8],[-3.0,1.6],[-2.98,0.3],[-2.95,1.1],[-2.92,2.4],[-2.9,0.55],[-2.88,1.45],[-2.85,0.15],[-2.83,1.9],
  [-2.8,0.9],[-2.78,2.55],[-2.76,0.4],[-2.74,1.25],[-2.72,3.1],[-2.7,0.7],[-2.68,1.75],[-2.66,2.3],[-2.64,0.2],[-2.62,1.05],
  [-2.6,3.6],[-2.58,1.5],[-2.56,0.55],[-2.54,2.0],[-2.52,1.2],[-2.5,0.05],[-2.9,1.0],[-2.8,2.1],[-2.7,0.95],[-2.6,2.8],
  [-2.55,0.85],[-3.0,0.5],[-2.75,1.6],[-2.65,3.95],
  [-2.48,1.6],[-2.46,0.8],[-2.44,2.25],[-2.42,1.1],[-2.4,0.35],[-2.38,3.85],[-2.36,1.4],[-2.34,0.65],[-2.32,2.7],[-2.3,1.8],
  [-2.28,0.1],[-2.26,1.25],[-2.24,3.1],[-2.22,0.5],[-2.2,1.95],[-2.18,1.05],[-2.16,2.95],[-2.14,0.3],[-2.12,1.55],[-2.1,3.45],
  [-2.08,0.85],[-2.06,1.7],[-2.04,2.4],[-2.02,0.45],[-2.0,1.3],[-2.45,1.95],[-2.35,0.2],[-2.25,2.3],[-2.15,0.7],[-2.05,1.15],
  [-2.4,2.9],[-2.3,1.0],[-2.2,3.9],[-2.1,0.15],[-2.45,0.55],[-2.25,1.6],[-2.05,3.2],
  [-1.98,1.5],[-1.96,0.6],[-1.94,2.2],[-1.92,1.0],[-1.9,0.25],[-1.88,1.75],[-1.86,3.3],[-1.84,0.8],[-1.82,1.35],[-1.8,2.6],
  [-1.78,0.4],[-1.76,1.15],[-1.74,1.9],[-1.72,3.75],[-1.7,0.7],[-1.68,1.45],[-1.66,0.1],[-1.64,2.35],[-1.62,1.1],[-1.6,3.1],
  [-1.58,0.5],[-1.56,1.65],[-1.54,0.9],[-1.52,2.15],[-1.5,1.3],[-1.95,1.9],[-1.85,0.35],[-1.75,2.25],[-1.65,0.95],[-1.55,1.85],
  [-1.9,2.85],[-1.8,1.55],[-1.7,0.2],[-1.6,1.6],[-1.7,3.4],
  [-1.48,0.75],[-1.46,1.7],[-1.44,2.5],[-1.42,0.3],[-1.4,1.2],[-1.38,2.05],[-1.36,0.85],[-1.34,1.5],[-1.32,2.7],[-1.3,0.45],
  [-1.28,1.85],[-1.26,1.05],[-1.24,2.35],[-1.22,0.6],[-1.2,1.4],[-1.18,0.2],[-1.15,1.7],[-1.12,0.95],[-1.1,1.25],[-1.05,0.5],
  [-1.35,3.75],[-1.3,2.1],[-1.45,0.15],[-1.25,1.6],
  [-2.69,1.3],[-2.67,0.5],[-2.63,1.6],[-2.59,0.85],[-2.57,2.05],[-2.53,0.3],[-2.51,1.45],[-2.47,1.0],[-2.43,0.55],[-2.41,1.75],
  [-2.37,0.25],[-2.33,1.25],[-2.31,0.75],[-2.27,1.95],[-2.23,1.35],[-2.21,0.35],[-2.17,1.55],[-2.13,0.9],[-2.11,2.05],[-2.07,0.4],
  [-2.03,1.5],[-2.01,0.8],[-1.97,1.2],[-1.93,0.4],[-1.91,1.6],[-1.87,2.1],[-1.83,0.55],[-1.81,1.1],[-1.77,1.65],[-1.73,0.3],
  [-1.71,1.3],[-1.67,0.75],[-1.63,1.9],[-1.61,0.45],[-1.57,1.35],[-1.53,0.6],[-1.51,1.8],[-1.47,1.15],[-1.43,0.55],[-1.41,1.9],
  [-1.37,1.05],[-1.33,0.35],[-1.29,1.4],[-1.27,0.7],[-1.23,1.1],[-1.19,0.9],[-2.85,1.2],[-2.77,0.65],[-2.93,1.75],[-2.35,1.6],
  [-2.09,1.3],[-1.85,1.4],[-1.59,1.0],[-2.45,2.1],[-2.19,0.55]
];

const accGlobal = [
  [-4.74,1.08],[-4.57,0.12],[-3.7,0.85],[-3.46,0.92],[-3.38,0.29],[-3.25,0.22],[-3.19,0.39],[-3.14,0.8],[-3.12,0.84],[-3.07,1.04],
  [-3.1,1.26],[-3.08,1.23],[-3.05,0.56],[-3.04,0.09],[-2.17,1.68],[-1.94,1.68],[-2.42,1.63],[-2.37,1.52],[-1.96,1.59],[-1.31,1.63],
  [-0.67,1.55],[-0.7,1.12],[-0.53,1.21],[-0.74,1.03],[-1.19,0.99],[-0.94,0.81],[-0.69,0.72],[-0.6,0.63],[-0.97,1.49],[-1.01,0.3],
  [-0.88,0.31],[-0.79,0.28],[0.0,0.78],[-1.78,0.0],[-1.53,0.0],[-1.27,0.05],
  [-2.98,0.6],[-2.96,1.15],[-2.94,0.3],[-2.92,0.85],[-2.9,1.3],[-2.88,0.45],[-2.86,0.95],[-2.84,0.15],[-2.82,0.7],[-2.8,1.2],
  [-2.78,0.4],[-2.76,1.0],[-2.74,0.55],[-2.72,1.35],[-2.7,0.25],[-2.68,0.8],[-2.66,1.1],[-2.64,0.5],[-2.62,0.9],[-2.6,1.45],
  [-2.58,0.35],[-2.56,0.7],[-2.54,1.05],[-2.52,0.2],[-2.5,0.6],[-2.9,0.75],[-2.8,0.3],[-2.7,0.95],[-2.6,0.12],[-2.55,1.25],
  [-2.85,1.05],[-2.65,0.65],
  [-2.48,1.25],[-2.46,0.45],[-2.44,0.85],[-2.42,0.15],[-2.4,1.0],[-2.38,0.6],[-2.36,1.35],[-2.34,0.3],[-2.32,0.75],[-2.3,1.1],
  [-2.28,0.5],[-2.26,0.9],[-2.24,0.2],[-2.22,1.2],[-2.2,0.65],[-2.18,1.45],[-2.16,0.35],[-2.14,0.8],[-2.12,1.05],[-2.1,0.1],
  [-2.08,0.55],[-2.06,0.95],[-2.04,1.3],[-2.02,0.4],[-2.0,0.75],[-2.45,0.7],[-2.35,0.95],[-2.25,0.4],[-2.15,1.15],[-2.05,0.25],
  [-2.4,1.5],[-2.3,0.15],[-2.2,0.85],[-2.1,1.4],[-2.28,1.0],[-2.08,0.68],
  [-1.98,1.0],[-1.96,0.3],[-1.94,0.65],[-1.92,1.25],[-1.9,0.5],[-1.88,0.85],[-1.86,0.12],[-1.84,1.1],[-1.82,0.7],[-1.8,0.4],
  [-1.78,1.35],[-1.76,0.55],[-1.74,0.9],[-1.72,0.25],[-1.7,1.15],[-1.68,0.62],[-1.66,0.8],[-1.64,1.4],[-1.62,0.35],[-1.6,0.7],
  [-1.58,1.0],[-1.56,0.5],[-1.54,0.15],[-1.52,0.85],[-1.5,1.25],[-1.95,0.45],[-1.85,0.95],[-1.75,0.2],[-1.65,1.05],[-1.55,0.6],
  [-1.9,1.45],[-1.7,0.75],[-1.6,1.3],
  [-1.48,0.55],[-1.46,0.9],[-1.44,0.3],[-1.42,1.1],[-1.4,0.7],[-1.38,1.3],[-1.36,0.45],[-1.34,0.85],[-1.32,0.2],[-1.3,1.0],
  [-1.28,0.6],[-1.26,0.35],[-1.24,0.8],[-1.22,0.1],[-1.2,0.65],[-1.15,0.45],[-1.1,0.85],[-1.05,0.6],[-1.4,0.1],[-1.35,1.2],
  [-1.3,1.4],[-1.25,1.2],
  [-2.69,0.6],[-2.67,1.05],[-2.63,0.3],[-2.59,0.8],[-2.57,1.2],[-2.53,0.45],[-2.49,0.95],[-2.47,0.2],[-2.43,1.15],[-2.39,0.7],
  [-2.37,0.4],[-2.33,1.0],[-2.31,1.3],[-2.27,0.75],[-2.23,0.35],[-2.21,0.95],[-2.17,0.6],[-2.13,1.2],[-2.11,0.3],[-2.07,0.85],
  [-2.03,1.05],[-2.01,0.55],[-1.97,0.8],[-1.93,0.35],[-1.91,1.05],[-1.87,0.65],[-1.83,1.25],[-1.81,0.25],[-1.77,0.7],[-1.73,1.0],
  [-1.71,0.45],[-1.67,1.2],[-1.63,0.8],[-1.61,0.5],[-1.57,0.3],[-1.53,0.95],[-1.51,0.65],[-1.47,1.05],[-1.43,0.85],[-1.39,0.5],
  [-2.82,0.9],[-2.75,0.45],[-2.87,0.6],[-2.25,1.15],[-2.05,0.45],[-1.8,0.95],[-1.59,1.1],[-2.41,0.55],[-1.99,1.2],[-2.15,0.2]
];

// layout of the 3x3 grid (page pixels)
const areaTop = [23.3, 263.3, 503.7];
const areaBottom = [191.7, 431.7, 672];
const areaLeft = [40, 298.5, 579];
const areaRight = [229.5, 487.5, 767.5];
const cellLeft = [0, 259, 517];
const cellRight = [259, 517, 770];
const xRange = [[-5, 0.06], [-5.04, 0.24], [-4.96, 0.2]];

const measures = [
  { title: 'Square root of amyloid\u2212\u03b2', ticks: amyloidTicks, range: [[-0.21, 4.92], [-0.183, 4.418], [-0.188, 4.54]], fmt: v => String(v) },
  { title: 'Square root of \u03c4', ticks: tauTicks, range: [[-0.31, 7.6], [-0.316, 7.63], [-0.28, 7.61]], fmt: v => String(v) },
  { title: ['Square root of', 'global AD pathology score'], ticks: globalTicks, range: [[-0.072, 1.746], [-0.072, 1.745], [-0.073, 1.753]], fmt: v => v.toFixed(1) }
];

const points = [
  [dlpfcAmyloid, dlpfcTau, dlpfcGlobal],
  [pccAmyloid, pccTau, pccGlobal],
  [accAmyloid, accTau, accGlobal]
];
const fits = [
  [fitDlpfcAmyloid, fitDlpfcTau, fitDlpfcGlobal],
  [fitPccAmyloid, fitPccTau, fitPccGlobal],
  [fitAccAmyloid, fitAccTau, fitAccGlobal]
];

const wrap = document.getElementById('wrap');
const tickFont = { family: '"Open Sans", sans-serif', size: 11 };
const minus = s => s.replace('-', '\u2212');

function makePanel(row, col) {
  const m = measures[col];
  const top = areaTop[row] - 23;
  const bottom = top + 240;
  const w = cellRight[col] - cellLeft[col];
  const h = bottom - top;
  const canvas = document.createElement('canvas');
  canvas.style.left = cellLeft[col] + 'px';
  canvas.style.top = top + 'px';
  canvas.style.width = w + 'px';
  canvas.style.height = h + 'px';
  canvas.width = w;
  canvas.height = h;
  wrap.appendChild(canvas);

  const xTicks = row === 2 ? xTicksAcc : xTicksWide;

  new Chart(canvas, {
    type: 'scatter',
    data: {
      datasets: [
        {
          data: fits[row][col].map(([x, y]) => ({ x, y })),
          showLine: true,
          borderColor: '#ee2020',
          borderWidth: 1.6,
          pointRadius: 0,
          order: 0
        },
        {
          data: points[row][col].map(([x, y]) => ({ x, y })),
          pointRadius: 2.9,
          pointBackgroundColor: '#000',
          pointBorderWidth: 0,
          order: 1
        }
      ]
    },
    options: {
      responsive: false,
      animation: false,
      devicePixelRatio: 2,
      layout: { padding: { top: areaTop[row] - top, right: cellRight[col] - areaRight[col], left: 0, bottom: 0 } },
      plugins: { legend: { display: false }, tooltip: { enabled: false } },
      scales: {
        x: {
          type: 'linear',
          min: xRange[row][0],
          max: xRange[row][1],
          afterBuildTicks: s => { s.ticks = xTicks.map(v => ({ value: v })); },
          afterFit: s => { s.height = bottom - areaBottom[row]; },
          grid: { drawOnChartArea: false, drawTicks: true, tickLength: 4, color: '#444' },
          border: { display: true, color: '#444', width: 1 },
          ticks: { font: tickFont, color: '#444', padding: 1, maxRotation: 0, callback: v => minus(String(v)) }
        },
        y: {
          type: 'linear',
          min: m.range[row][0],
          max: m.range[row][1],
          afterBuildTicks: s => { s.ticks = m.ticks.map(v => ({ value: v })); },
          afterFit: s => { s.width = areaLeft[col] - cellLeft[col]; },
          grid: { drawOnChartArea: false, drawTicks: true, tickLength: 4, color: '#444' },
          border: { display: true, color: '#444', width: 1 },
          ticks: { font: tickFont, color: '#444', padding: 3, callback: v => m.fmt(v) },
          title: {
            display: true,
            text: m.title,
            color: '#333',
            font: { family: '"Open Sans", sans-serif', size: 13 },
            padding: 0
          }
        }
      }
    }
  });

  // x axis title with italic gene name
  const xt = document.createElement('div');
  xt.className = 'lbl';
  xt.style.left = ((areaLeft[col] + areaRight[col]) / 2) + 'px';
  xt.style.top = (areaBottom[row] + 21) + 'px';
  xt.innerHTML = 'Expression of <i>ER2</i> at ' + regions[row];
  wrap.appendChild(xt);
}

for (let r = 0; r < 3; r++) {
  for (let c = 0; c < 3; c++) makePanel(r, c);
  const rt = document.createElement('div');
  rt.className = 'lbl';
  rt.style.left = ((areaLeft[1] + areaRight[1]) / 2) + 'px';
  rt.style.top = (areaTop[r] - 24) + 'px';
  rt.innerHTML = 'Expression of <i>ER2</i> at ' + regions[r];
  wrap.appendChild(rt);
}
</script>
</body>
</html>
